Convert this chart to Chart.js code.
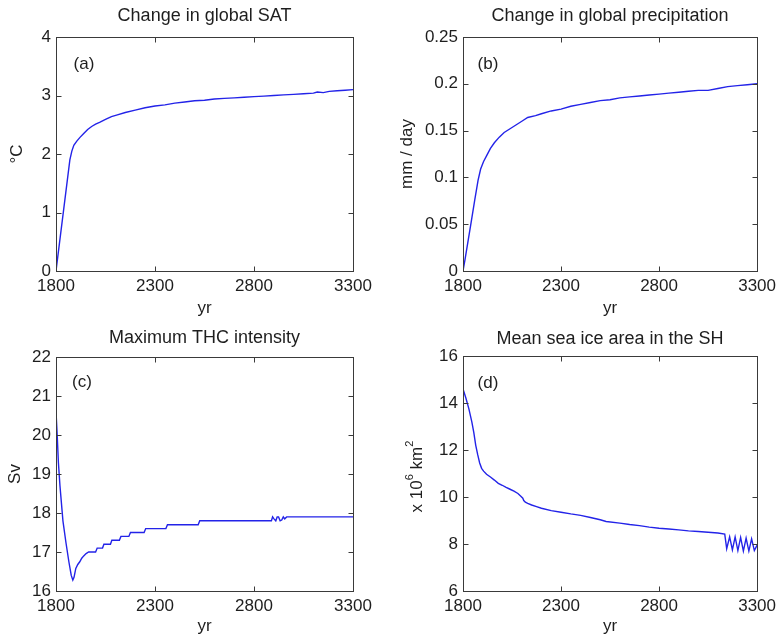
<!DOCTYPE html>
<html>
<head>
<meta charset="utf-8">
<script src="https://cdn.jsdelivr.net/npm/chart.js@4.4.1/dist/chart.umd.min.js"></script>
<style>
html,body{margin:0;padding:0;background:#fff;}
#fig{position:relative;width:781px;height:637px;overflow:hidden;background:#fff;}
#fig canvas{position:absolute;}
</style>
</head>
<body>
<div id="fig">
  <canvas id="cA" width="390" height="320" style="left:0;top:0"></canvas>
  <canvas id="cB" width="391" height="320" style="left:390px;top:0"></canvas>
  <canvas id="cC" width="390" height="319" style="left:0;top:318px"></canvas>
  <canvas id="cD" width="391" height="319" style="left:390px;top:318px"></canvas>
</div>
<script>
// shared x axis
const xTicks = [1800, 2300, 2800, 3300];

// (a) change in global SAT, degC
const satYears  = [1800,1870,1880,1890,1905,1920,1940,1960,1980,2000,2020,2050,2080,2110,2150,2200,2250,2300,2350,2400,2450,2500,2550,2600,2650,2700,2750,2800,2850,2900,2950,3000,3050,3100,3120,3150,3180,3220,3260,3300];
const satValues = [0,1.9,2.05,2.15,2.22,2.28,2.35,2.42,2.47,2.51,2.54,2.59,2.64,2.67,2.71,2.75,2.79,2.82,2.84,2.87,2.89,2.91,2.92,2.94,2.95,2.96,2.97,2.98,2.99,3.0,3.01,3.02,3.03,3.04,3.06,3.05,3.07,3.08,3.09,3.1];
const satTicks  = [0,1,2,3,4];

// (b) change in global precipitation, mm/day
const precYears  = [1800,1810,1840,1860,1877,1890,1905,1920,1940,1960,1985,2010,2040,2070,2100,2130,2170,2200,2250,2300,2350,2400,2450,2500,2550,2600,2650,2700,2750,2800,2850,2900,2950,3000,3050,3100,3150,3200,3250,3300];
const precValues = [0,0.012,0.05,0.076,0.097,0.109,0.117,0.123,0.131,0.137,0.143,0.148,0.152,0.156,0.16,0.164,0.166,0.168,0.171,0.173,0.176,0.178,0.18,0.182,0.183,0.185,0.186,0.187,0.188,0.189,0.19,0.191,0.192,0.193,0.193,0.195,0.197,0.198,0.199,0.2];
const precTicks  = [0,0.05,0.1,0.15,0.2,0.25];

// (c) maximum THC intensity, Sv
const thcYears  = [1800,1806,1812,1820,1835,1850,1865,1877,1885,1891,1900,1910,1920,1930,1940,1952,1965,2000,2008,2035,2042,2075,2082,2120,2128,2168,2176,2245,2253,2355,2363,2518,2526,2888,2894,2901,2910,2917,2924,2932,2940,2948,2955,2965,3300];
const thcValues = [20.6,20.0,19.3,18.7,17.8,17.25,16.75,16.4,16.28,16.35,16.58,16.68,16.75,16.84,16.9,16.96,17.0,17.0,17.1,17.1,17.2,17.2,17.3,17.3,17.4,17.4,17.5,17.5,17.6,17.6,17.7,17.7,17.8,17.8,17.9,17.85,17.8,17.9,17.9,17.8,17.82,17.9,17.85,17.9,17.9];
const thcTicks  = [16,17,18,19,20,21,22];

// (d) mean sea ice area in the SH, 10^6 km^2
const iceYears  = [1800,1815,1830,1845,1855,1865,1875,1885,1895,1905,1920,1940,1960,1980,2000,2020,2040,2060,2080,2095,2105,2110,2118,2130,2150,2175,2200,2250,2300,2350,2400,2450,2500,2530,2600,2650,2700,2750,2800,2850,2900,2950,3000,3050,3100,3135,3145,3160,3174,3188,3202,3216,3230,3244,3258,3272,3286,3300];
const iceValues = [14.6,14.2,13.75,13.2,12.75,12.2,11.8,11.45,11.22,11.1,10.97,10.85,10.72,10.58,10.5,10.41,10.33,10.25,10.15,10.03,9.95,9.85,9.78,9.73,9.66,9.59,9.52,9.42,9.35,9.28,9.22,9.13,9.03,8.96,8.89,8.83,8.78,8.72,8.67,8.64,8.6,8.56,8.53,8.5,8.47,8.42,7.8,8.3,7.75,8.3,7.72,8.28,7.7,8.25,7.7,8.22,7.72,7.95];
const iceTicks  = [6,8,10,12,14,16];

const LINE = "#2323e8";
const AXIS = "#3a3a3a";
const TEXT = "#1e1e1e";
const FAMILY = "'Liberation Sans', Arial, Helvetica, sans-serif";
const TICK = 5;

function fmt(v){ return String(+v.toFixed(2)); }

// box with inward ticks, panel title, panel tag, optional rich y label
const framePlugin = {
  id: "frame",
  afterDraw(chart, args, o){
    const {ctx, chartArea:a, scales:{x, y}} = chart;
    ctx.save();
    ctx.strokeStyle = AXIS; ctx.lineWidth = 1;
    const L = Math.round(a.left)+0.5, R = Math.round(a.right)+0.5, T = Math.round(a.top)+0.5, B = Math.round(a.bottom)+0.5;
    ctx.strokeRect(L, T, R-L, B-T);
    ctx.beginPath();
    x.ticks.forEach(t=>{
      const px = Math.round(x.getPixelForValue(t.value))+0.5;
      ctx.moveTo(px, B); ctx.lineTo(px, B-TICK);
      ctx.moveTo(px, T); ctx.lineTo(px, T+TICK);
    });
    y.ticks.forEach(t=>{
      const py = Math.round(y.getPixelForValue(t.value))+0.5;
      ctx.moveTo(L, py); ctx.lineTo(L+TICK, py);
      ctx.moveTo(R, py); ctx.lineTo(R-TICK, py);
    });
    ctx.stroke();

    ctx.fillStyle = TEXT;
    ctx.textAlign = "center"; ctx.textBaseline = "middle";
    ctx.font = "18px " + FAMILY;
    ctx.fillText(o.title, (a.left+a.right)/2, o.titleY);
    ctx.font = "17px " + FAMILY;
    ctx.fillText(o.tag, o.tagX, o.tagY);

    if(o.richLabel){
      // rotated label with superscripts: [text, isSup]
      ctx.translate(o.richX, (a.top+a.bottom)/2 + o.richDy);
      ctx.rotate(-Math.PI/2);
      ctx.textAlign = "left";
      const parts = o.richLabel.map(([s, sup])=>{
        ctx.font = (sup ? "11px " : "17px ") + FAMILY;
        return {s, sup, w: ctx.measureText(s).width};
      });
      let cx = -parts.reduce((m,p)=>m+p.w,0)/2;
      parts.forEach(p=>{
        ctx.font = (p.sup ? "11px " : "17px ") + FAMILY;
        ctx.fillText(p.s, cx, p.sup ? -7 : 0);
        cx += p.w;
      });
    }
    ctx.restore();
  }
};

function makePanel(id, p){
  const cv = document.getElementById(id);
  const W = cv.width, H = cv.height;
  const font = { family: FAMILY, size: 17 };
  return new Chart(cv, {
    type: "line",
    data: { datasets: [{
      data: p.years.map((x,i)=>({x, y: p.values[i]})),
      borderColor: LINE, borderWidth: 1.4, pointRadius: 0, tension: 0, fill: false
    }]},
    options: {
      responsive: false, animation: false, events: [],
      layout: { padding: { left: 0, top: p.area.top, right: W - p.area.right, bottom: 0 } },
      plugins: {
        legend: { display: false }, tooltip: { enabled: false },
        frame: { title: p.title, titleY: p.titleY, tag: p.tag, tagX: p.tagX, tagY: p.tagY,
                 richLabel: p.richLabel, richX: p.richX, richDy: p.richDy || 0 }
      },
      scales: {
        x: {
          type: "linear", min: 1800, max: 3300,
          afterBuildTicks: s => { s.ticks = xTicks.map(v=>({value: v})); },
          afterFit: s => { s.height = H - p.area.bottom; },
          grid: { display: false, drawTicks: false }, border: { display: false },
          ticks: { font, color: TEXT, padding: 5, maxRotation: 0, autoSkip: false, callback: v => String(v) },
          title: { display: true, text: "yr", font, color: TEXT, padding: { top: 0, bottom: p.xTitlePad } }
        },
        y: {
          type: "linear", min: p.yTicks[0], max: p.yTicks[p.yTicks.length-1],
          afterBuildTicks: s => { s.ticks = p.yTicks.map(v=>({value: v})); },
          afterFit: s => { s.width = p.area.left; },
          grid: { display: false, drawTicks: false }, border: { display: false },
          ticks: { font, color: TEXT, padding: 5, autoSkip: false, callback: v => fmt(v) },
          title: { display: !!p.yTitle, text: p.yTitle || "", font, color: TEXT, padding: { top: p.yTitlePad || 0, bottom: 0 } }
        }
      }
    },
    plugins: [framePlugin]
  });
}

makePanel("cA", {
  years: satYears, values: satValues, yTicks: satTicks,
  area: { left: 56, top: 37, right: 353, bottom: 271 },
  title: "Change in global SAT", titleY: 16, tag: "(a)", tagX: 84, tagY: 64,
  yTitle: "°C", yTitlePad: 7, xTitlePad: 1
});
makePanel("cB", {
  years: precYears, values: precValues, yTicks: precTicks,
  area: { left: 73, top: 37, right: 368, bottom: 271 },
  title: "Change in global precipitation", titleY: 16, tag: "(b)", tagX: 98, tagY: 64,
  yTitle: "mm / day", yTitlePad: 7, xTitlePad: 1
});
makePanel("cC", {
  years: thcYears, values: thcValues, yTicks: thcTicks,
  area: { left: 56, top: 39, right: 353, bottom: 273 },
  title: "Maximum THC intensity", titleY: 20, tag: "(c)", tagX: 82, tagY: 64,
  yTitle: "Sv", yTitlePad: 5, xTitlePad: 0
});
makePanel("cD", {
  years: iceYears, values: iceValues, yTicks: iceTicks,
  area: { left: 73, top: 38, right: 368, bottom: 273 },
  title: "Mean sea ice area in the SH", titleY: 21, tag: "(d)", tagX: 98, tagY: 65,
  richLabel: [["x 10", false], ["6", true], [" km", false], ["2", true]], richX: 27, richDy: 3,
  xTitlePad: 0
});
</script>
</body>
</html>
